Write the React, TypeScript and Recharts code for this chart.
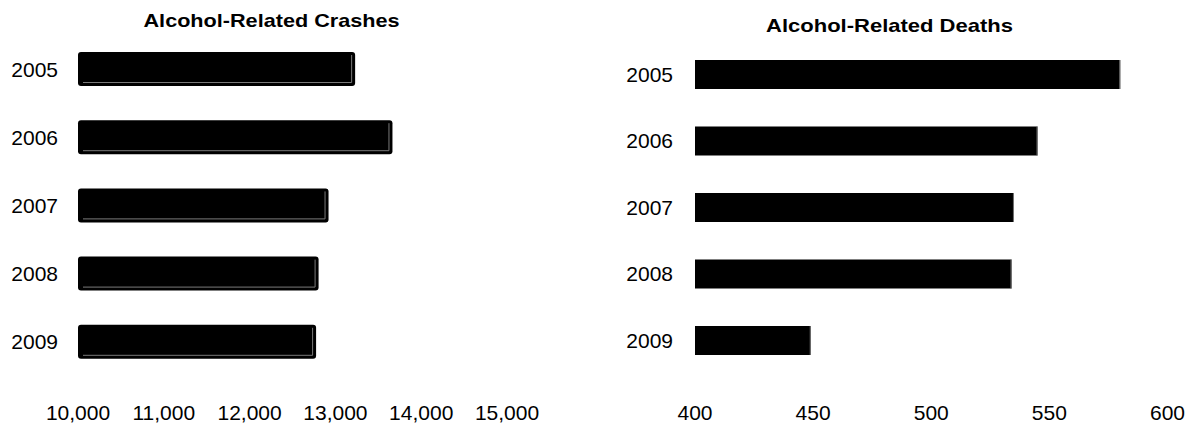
import React from 'react';
import { BarChart, Bar, XAxis, YAxis } from 'recharts';

const years = ['2005', '2006', '2007', '2008', '2009'];
const crashes = [13230, 13665, 12920, 12804, 12775];
const deaths = [580, 545, 535, 534, 449];
const crashTicks = [10000, 11000, 12000, 13000, 14000, 15000];
const deathTicks = [400, 450, 500, 550, 600];
const titles = ['Alcohol-Related Crashes', 'Alcohol-Related Deaths'];

const crashData = years.map((year, i) => ({ year, value: crashes[i] }));
const deathData = years.map((year, i) => ({ year, value: deaths[i] }));

const FONT = '"Liberation Sans", Arial, sans-serif';
const tickStyle = { fontSize: 21, fill: '#000', fontFamily: FONT };

const fmt = (v: number) => v.toLocaleString('en-US');

const CrashShape = (props: any) => {
  const { x, y, width, height } = props;
  if (!width || width <= 0) return null;
  return (
    <g>
      <rect x={x} y={y} width={width} height={height} rx={3} ry={3} fill="#000" />
      <path
        d={`M ${x + 5} ${y + height - 3.5} H ${x + width - 3.5} V ${y + 3}`}
        stroke="#7a7a7a"
        strokeWidth={1}
        fill="none"
      />
    </g>
  );
};

const DeathShape = (props: any) => {
  const { x, y, width, height } = props;
  if (!width || width <= 0) return null;
  return (
    <g>
      <rect x={x} y={y} width={width} height={height} fill="#000" />
      <line x1={x + width - 0.5} y1={y} x2={x + width - 0.5} y2={y + height} stroke="#777" strokeWidth={1} />
    </g>
  );
};

export default function App() {
  return (
    <div style={{ position: 'absolute', left: 0, top: 0, width: 1195, height: 423, background: '#fff', fontFamily: FONT }}>
      <div style={{ position: 'absolute', left: 0, top: 0 }}>
        <BarChart
          width={580}
          height={423}
          data={crashData}
          layout="vertical"
          barCategoryGap={0}
          margin={{ top: 35, right: 73, bottom: 0, left: 0 }}
        >
          <XAxis
            type="number"
            domain={[10000, 15000]}
            ticks={crashTicks}
            tickFormatter={fmt}
            axisLine={false}
            tickLine={false}
            tickSize={0}
            tickMargin={29}
            height={47}
            tick={tickStyle}
            interval={0}
          />
          <YAxis
            type="category"
            dataKey="year"
            width={78}
            axisLine={false}
            tickLine={false}
            tickSize={0}
            tickMargin={20}
            tick={tickStyle}
          />
          <Bar dataKey="value" barSize={34} isAnimationActive={false} shape={<CrashShape />} />
        </BarChart>
      </div>
      <div style={{ position: 'absolute', left: 590, top: 0 }}>
        <BarChart
          width={605}
          height={423}
          data={deathData}
          layout="vertical"
          barCategoryGap={0}
          margin={{ top: 41, right: 27.5, bottom: 0, left: 0 }}
        >
          <XAxis
            type="number"
            domain={[400, 600]}
            ticks={deathTicks}
            axisLine={false}
            tickLine={false}
            tickSize={0}
            tickMargin={32}
            height={49.5}
            tick={tickStyle}
            interval={0}
          />
          <YAxis
            type="category"
            dataKey="year"
            width={105}
            axisLine={false}
            tickLine={false}
            tickSize={0}
            tickMargin={22}
            tick={tickStyle}
          />
          <Bar dataKey="value" barSize={29} isAnimationActive={false} shape={<DeathShape />} />
        </BarChart>
      </div>
      <svg width={1195} height={423} style={{ position: 'absolute', left: 0, top: 0, pointerEvents: 'none' }}>
        <text
          x={143.5}
          y={27}
          fontSize={19}
          fontWeight="bold"
          fontFamily={FONT}
          fill="#000"
          textLength={256}
          lengthAdjust="spacingAndGlyphs"
        >
          {titles[0]}
        </text>
        <text
          x={766}
          y={32}
          fontSize={19}
          fontWeight="bold"
          fontFamily={FONT}
          fill="#000"
          textLength={247}
          lengthAdjust="spacingAndGlyphs"
        >
          {titles[1]}
        </text>
      </svg>
    </div>
  );
}
